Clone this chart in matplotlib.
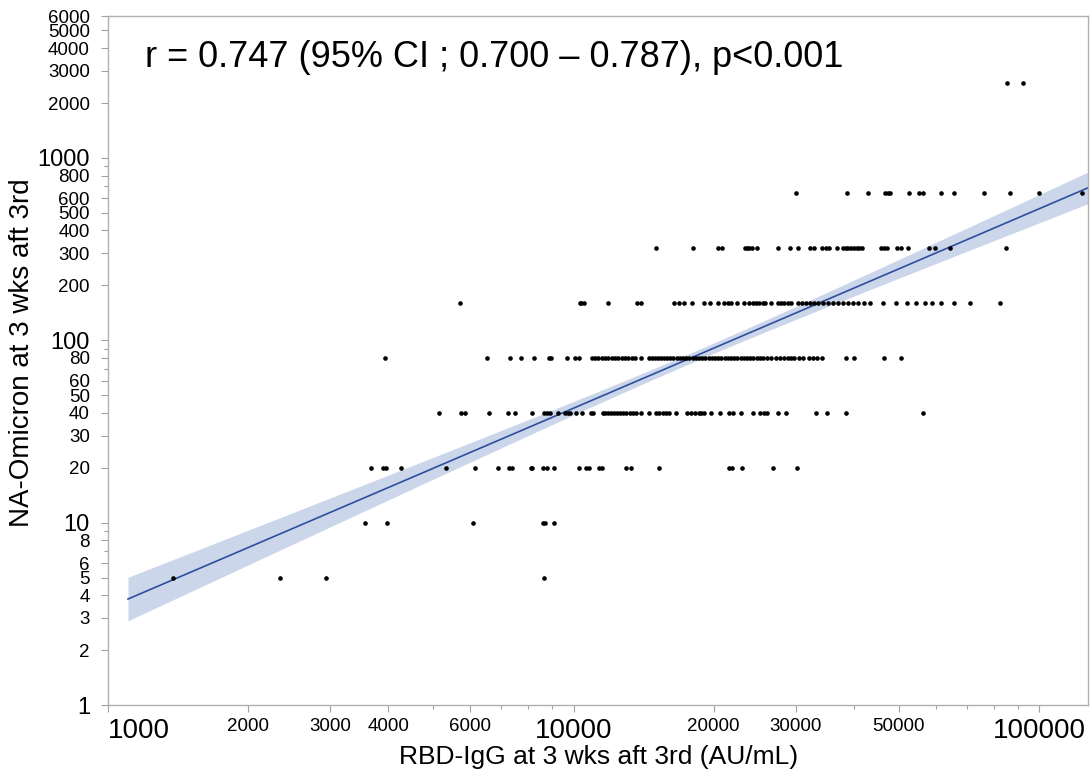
import numpy as np
import matplotlib
matplotlib.use("Agg")
import matplotlib.pyplot as plt
from matplotlib import font_manager
from matplotlib.ticker import FixedLocator, NullFormatter

# RBD-IgG (AU/mL) values at each NA-Omicron titre level
x_5 = [1380, 2340, 2940, 8620]
x_10 = [3570, 3980, 6090, 8580, 8700, 9070]
x_20 = [3670, 3900, 3960, 4250, 5330, 6150, 6890, 7270, 7390, 8120, 8160, 8580,
        8750, 9070, 10250, 10660, 10820, 11370, 11490, 12940, 13270, 15230,
        21560, 21900, 23000, 26760, 30240]
x_40 = [5150, 5720, 5840, 6590, 7240, 7500, 8160, 8660, 8790, 8880, 9240, 9570,
        9710, 9810, 10120, 10430, 10880, 10990, 11550, 11660, 11830, 12020,
        12200, 12400, 12600, 12800, 12990, 13200, 13410, 13620, 13940, 14500,
        15020, 15230, 15550, 15780, 16010, 16600, 17500, 17850, 18200, 18560,
        18760, 19080, 19710, 20600, 21550, 21990, 22870, 24340, 25120, 25640,
        26020, 27450, 28560, 33150, 35050, 38410, 56340]
x_80 = [3940, 6530, 7320, 7730, 8240, 8840, 8930, 9660, 10070, 10270, 10930,
        11100, 11270, 11510, 11680, 11860, 12100, 12280, 12470, 12720, 12910,
        13110, 13380, 13580, 13940, 14500, 14720, 14940, 15160, 15390, 15620,
        15850, 16090, 16330, 16650, 16900, 17160, 17420, 17680, 18030, 18300,
        18570, 18850, 19130, 19520, 19810, 20110, 20410, 20710, 21120, 21440,
        21760, 22080, 22410, 22870, 23210, 23560, 23910, 24270, 24750, 25120,
        25500, 26010, 26530, 27200, 27740, 28290, 28850, 29290, 29730, 30560,
        31170, 32000, 32650, 33320, 34180, 38410, 39980, 46460, 50500]
x_160 = [5690, 10300, 10400, 10510, 11830, 13660, 13940, 16410, 16830, 17250,
         17950, 19020, 19600, 20410, 21020, 21440, 21760, 22500, 23210, 23790,
         24270, 24630, 25000, 25500, 25760, 26530, 27480, 27880, 28290, 28850,
         29290, 30320, 31010, 31630, 32270, 32920, 33590, 34270, 35130, 36010,
         36910, 37840, 38790, 39760, 40760, 42030, 43350, 46200, 49230, 51940,
         54540, 57000, 58760, 61550, 65660, 71060, 82480]
x_320 = [15070, 18060, 20430, 20890, 23310, 23550, 23790, 24170, 24800, 27470,
         29210, 30390, 32160, 32890, 34200, 34800, 35400, 36810, 37970, 38410,
         38900, 39500, 40110, 40590, 41070, 41650, 45680, 46390, 47180, 49430,
         50440, 52190, 58050, 59660, 64420, 84870]
x_640 = [30020, 38650, 42880, 46650, 47340, 47820, 52500, 55200, 56300, 61500,
         65660, 76180, 86600, 100000, 123700]
x_2560 = [85300, 92400]

titre_levels = [5, 10, 20, 40, 80, 160, 320, 640, 2560]
x_groups = [x_5, x_10, x_20, x_40, x_80, x_160, x_320, x_640, x_2560]

# fitted line in log10-log10 space and its 95% CI half-width
fit_slope = 1.0934
fit_intercept = -2.746
ci_center = 4.25
ci_h0 = 0.028
ci_k = 0.096
fit_xmin, fit_xmax = 1104, 127500

stat_text = "r = 0.747 (95% CI ; 0.700 \u2013 0.787), p<0.001"

x_major = [1000, 2000, 3000, 4000, 6000, 10000, 20000, 30000, 50000, 100000]
x_minor = [5000, 7000, 8000, 9000, 40000, 60000, 70000, 80000, 90000]
y_major = [1, 2, 3, 4, 5, 6, 8, 10, 20, 30, 40, 50, 60, 80, 100, 200, 300,
           400, 500, 600, 800, 1000, 2000, 3000, 4000, 5000, 6000]
y_minor = [7, 9, 70, 90, 700, 900]

names = {f.name for f in font_manager.fontManager.ttflist}
narrow = "Liberation Sans Narrow" if "Liberation Sans Narrow" in names else "Liberation Sans"
plt.rcParams["font.family"] = ["Liberation Sans", "DejaVu Sans"]

fig = plt.figure(figsize=(10.92, 7.81), dpi=100)
ax = fig.add_axes([0.0989, 0.0973, 0.9965 - 0.0989, 0.9795 - 0.0973])

lx = np.linspace(np.log10(fit_xmin), np.log10(fit_xmax), 200)
ly = fit_intercept + fit_slope * lx
half = np.sqrt(ci_h0 ** 2 + (ci_k * (lx - ci_center)) ** 2)
ax.fill_between(10 ** lx, 10 ** (ly - half), 10 ** (ly + half),
                color="#ccd6ea", lw=0, zorder=1)
ax.plot(10 ** lx, 10 ** ly, color="#2e4f9e", lw=1.2, zorder=2)

for level, xs in zip(titre_levels, x_groups):
    ax.scatter(xs, [level] * len(xs), s=11, color="black", lw=0, zorder=3)

ax.set_xscale("log")
ax.set_yscale("log")
ax.set_xlim(1000, 127500)
ax.set_ylim(1, 6000)

ax.xaxis.set_major_locator(FixedLocator(x_major))
ax.xaxis.set_minor_locator(FixedLocator(x_minor))
ax.yaxis.set_major_locator(FixedLocator(y_major))
ax.yaxis.set_minor_locator(FixedLocator(y_minor))
ax.xaxis.set_minor_formatter(NullFormatter())
ax.yaxis.set_minor_formatter(NullFormatter())
ax.set_xticklabels([str(v) for v in x_major])
ax.set_yticklabels([str(v) for v in y_major])

for lab, v in zip(ax.get_xticklabels(), x_major):
    if v in (1000, 10000, 100000):
        lab.set_fontfamily(narrow)
        lab.set_fontsize(20)
        if v == 1000:
            lab.set_horizontalalignment("left")
    else:
        lab.set_fontsize(13.5)
for lab, v in zip(ax.get_yticklabels(), y_major):
    if v in (1, 10, 100, 1000):
        lab.set_fontfamily(narrow)
        lab.set_fontsize(17)
    else:
        lab.set_fontsize(13.5)

ax.tick_params(which="both", direction="out", color="#a0a0a0", width=0.8)
ax.tick_params(which="major", length=5)
ax.tick_params(which="minor", length=3)
ax.tick_params(axis="x", pad=4)
ax.tick_params(axis="y", pad=8)
for s in ax.spines.values():
    s.set_color("#b0b0b0")
    s.set_linewidth(1.0)

ax.set_xlabel("RBD-IgG at 3 wks aft 3rd (AU/mL)", fontsize=19)
ax.set_ylabel("NA-Omicron at 3 wks aft 3rd", fontsize=20)
ax.xaxis.set_label_coords(0.5, -0.058)
ax.yaxis.set_label_coords(-0.0746, 0.512)

ax.text(0.038, 0.94, stat_text, transform=ax.transAxes, fontsize=26,
        ha="left", va="center")

fig.savefig("out.png", dpi=100)
